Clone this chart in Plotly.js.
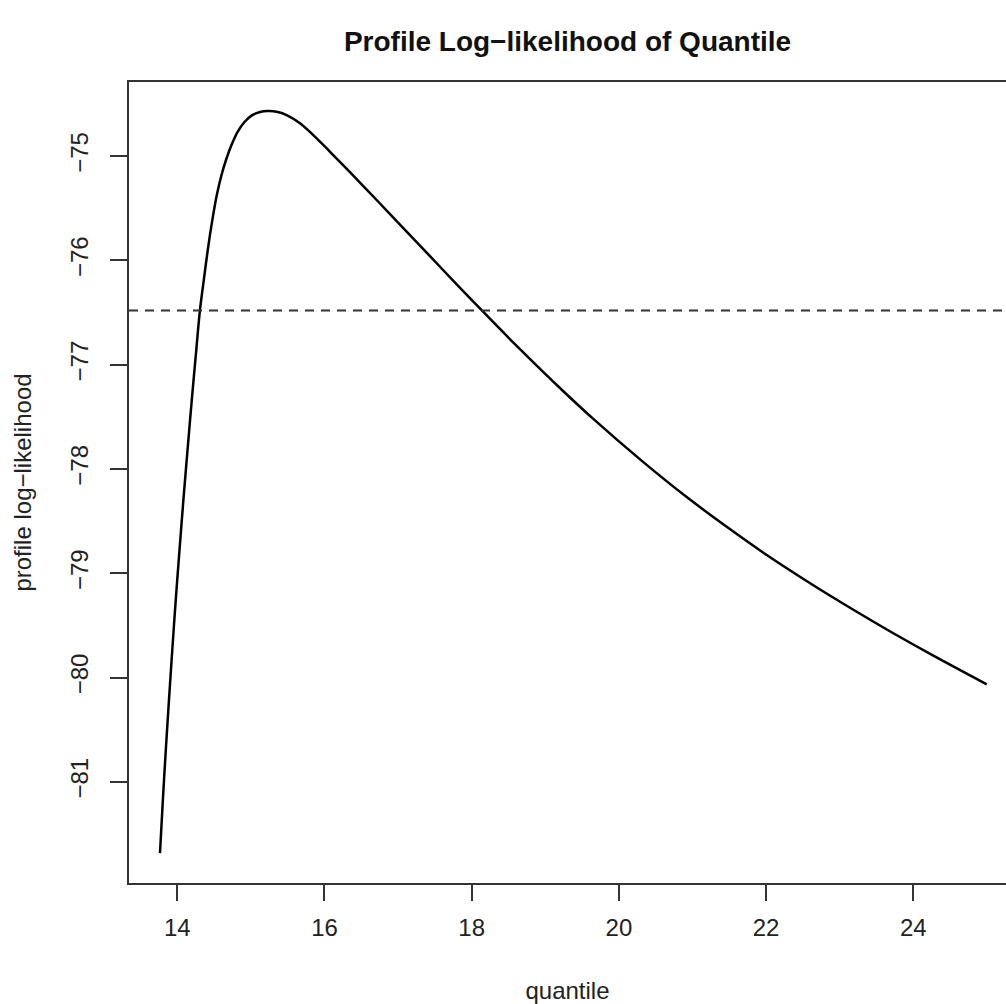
<!DOCTYPE html>
<html>
<head>
<meta charset="utf-8">
<script src="https://cdn.plot.ly/plotly-3.0.1.min.js"></script>
<style>html,body{margin:0;padding:0;background:#fff;}#chart{width:1006px;height:1004px;}</style>
</head>
<body>
<div id="chart"></div>
<script>
// Quantile values (x) and profile log-likelihood (y)
const quantile = [
  13.765, 13.804, 13.844, 13.887, 13.932, 13.979, 14.030, 14.083, 14.139, 14.197,
  14.258, 14.308, 14.360, 14.414, 14.476, 14.537, 14.601, 14.662, 14.736, 14.818,
  14.913, 15.008, 15.124, 15.232, 15.351, 15.486, 15.667, 15.894, 16.075, 16.346,
  16.754, 17.071, 17.433, 17.796, 18.158, 18.611, 19.245, 19.652, 20.332, 20.921,
  21.465, 22.008, 22.641, 23.185, 23.728, 24.272, 24.997
];
const profileLL = [
  -81.683, -81.174, -80.695, -80.216, -79.736, -79.257, -78.778, -78.298, -77.819, -77.339,
  -76.860, -76.477, -76.189, -75.901, -75.614, -75.374, -75.182, -75.038, -74.895, -74.770,
  -74.674, -74.612, -74.578, -74.569, -74.575, -74.607, -74.686, -74.830, -74.959, -75.155,
  -75.455, -75.690, -75.960, -76.230, -76.495, -76.820, -77.255, -77.520, -77.935, -78.270,
  -78.555, -78.825, -79.115, -79.350, -79.575, -79.790, -80.065
];
// Confidence cut-off level (dashed horizontal line)
const cutoffLevel = -76.48;
const xTicks = [14, 16, 18, 20, 22, 24];
const yTicks = [-81, -80, -79, -78, -77, -76, -75];

const FONT = '"Liberation Sans", Arial, sans-serif';
const fmt = v => (v < 0 ? '\u2212' + Math.abs(v) : String(v));

const trace = {
  x: quantile, y: profileLL, type: 'scatter', mode: 'lines',
  line: {color: '#000', width: 2.5, shape: 'spline', smoothing: 0.8}, hoverinfo: 'skip', showlegend: false
};

const layout = {
  width: 1006, height: 1004,
  margin: {l: 129, r: 0, t: 82, b: 121},
  paper_bgcolor: '#fff', plot_bgcolor: '#fff',
  font: {family: FONT, color: '#222', size: 24},
  title: {text: '<b>Profile Log\u2212likelihood of Quantile</b>', x: 0.5, xref: 'paper', xanchor: 'center',
          y: 43, yref: 'container', yanchor: 'middle', font: {family: FONT, size: 28, color: '#111'}},
  xaxis: {
    range: [13.344, 25.259], tickvals: xTicks, ticktext: xTicks.map(fmt),
    showgrid: false, zeroline: false, showline: true, linecolor: '#333', linewidth: 2,
    mirror: true, ticks: 'outside', ticklen: 16, tickwidth: 2, tickcolor: '#333',
    tickfont: {family: FONT, size: 24, color: '#222'}, ticklabelstandoff: 6,
    title: {text: 'quantile', font: {family: FONT, size: 24, color: '#222'}, standoff: 42}
  },
  yaxis: {
    range: [-81.970, -74.290], tickvals: yTicks, ticktext: yTicks.map(fmt),
    showgrid: false, zeroline: false, showline: true, linecolor: '#333', linewidth: 2,
    ticks: 'outside', ticklen: 17, tickwidth: 2, tickcolor: '#333', tickangle: -90,
    tickfont: {family: FONT, size: 24, color: '#222'}, ticklabelstandoff: 12,
    title: {text: 'profile log\u2212likelihood', font: {family: FONT, size: 24, color: '#222'}, standoff: 28}
  },
  shapes: [{
    type: 'line', xref: 'paper', x0: 0, x1: 1, yref: 'y', y0: cutoffLevel, y1: cutoffLevel,
    line: {color: '#333', width: 2, dash: '9px,7px'}
  }]
};

Plotly.newPlot('chart', [trace], layout, {displayModeBar: false, staticPlot: true});
</script>
</body>
</html>
